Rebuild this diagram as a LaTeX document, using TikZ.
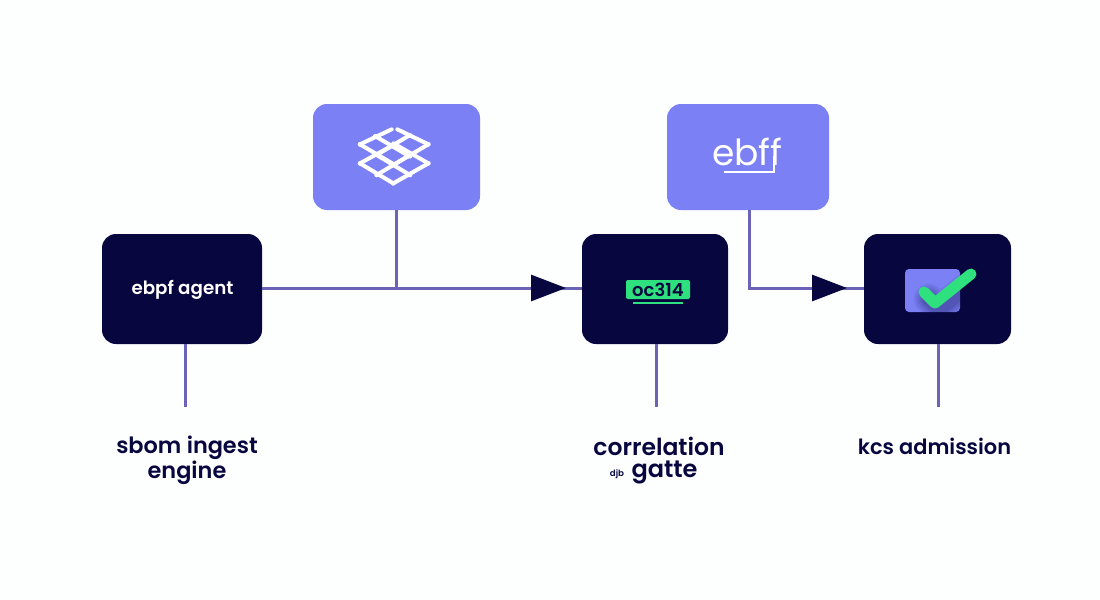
\documentclass[tikz,border=0pt]{standalone}
\usepackage{fontspec}
\setmainfont{Poppins}[BoldFont={Poppins SemiBold}]
\usetikzlibrary{arrows.meta,calc}
\definecolor{bgc}{HTML}{FDFEFE}
\definecolor{darkbox}{HTML}{07063F}
\definecolor{purplebox}{HTML}{7B80F5}
\definecolor{linec}{HTML}{6B63B8}
\definecolor{greenc}{HTML}{2FE07F}
\tikzset{
  box/.style={rounded corners=10.5pt,inner sep=0pt,minimum height=#1},
  darkb/.style={box=82.5pt,fill=darkbox,text=white},
  lightb/.style={box=79.5pt,fill=purplebox,text=white},
  conn/.style={draw=linec,line width=2.25pt},
  tipped/.style={conn,-{Triangle[length=26.25pt,width=19.5pt,color=darkbox]}},
  lab/.style={text=darkbox,font=\fontsize{16.8pt}{18.75pt}\selectfont\bfseries,align=center,inner sep=0pt},
  mesh/.style={draw=white,line width=3pt,line cap=round},
  meshdot/.style={fill=white}
}
\begin{document}
\begin{tikzpicture}[x=0.75pt,y=-0.75pt]
\useasboundingbox (0,0) rectangle (1100,600);
\fill[bgc] (0,0) rectangle (1100,600);
% boxes
\node[darkb,minimum width=120pt] (agent) at (182,289) {};
\node[text=white,inner sep=0pt,font=\fontsize{13.7pt}{16pt}\selectfont\bfseries] (agentt) at (182.5,290) {ebpf agent};
\node[lightb,minimum width=125.25pt] (mesh) at (396.5,157) {};
\node[lightb,minimum width=121.5pt] (ebff) at (748,157) {};
\node[darkb,minimum width=109.5pt] (corr) at (655,289) {};
\node[darkb,minimum width=110.25pt] (kcs) at (937.5,289) {};
% connector helpers
\coordinate (tipa) at (566,288);
\coordinate (tipb) at (847,288);
\coordinate (jmesh) at (mesh.south |- tipa);
\coordinate (jebff) at (749,288);
\coordinate (enda) at (185,407);
\coordinate (endc) at (656,407);
\coordinate (endk) at (938,407);
% connectors
\draw[conn] (agent.east |- tipa) -- (corr.west |- tipa);
\draw[tipped] (jmesh) -- (tipa);
\draw[conn] (mesh.south) -- (jmesh);
\draw[conn,line join=miter] (ebff.south -| jebff) -- (jebff) -- (kcs.west |- tipb);
\draw[tipped] (jebff) -- (tipb);
\draw[conn] (agent.south -| enda) -- (enda);
\draw[conn] (corr.south -| endc) -- (endc);
\draw[conn] (kcs.south -| endk) -- (endk);
% mesh icon
\begin{scope}[shift={(310,100)},x=0.25pt,y=-0.25pt]
  \foreach \a/\b/\c/\d in {150/133/245/88,262/88/355/133,195/108/300/170,150/133/250/192,300/105/200/165,355/133/250/195,150/190/250/135,355/190/250/130,150/190/250/250,355/190/250/250,200/165/300/225,300/165/200/225}{
    \draw[mesh] (\a,\b) -- (\c,\d);
  }
  \foreach \a/\b in {150/133,355/133,150/190,355/190,250/250,200/225,300/225}{
    \fill[meshdot] (\a,\b) circle (7);
  }
\end{scope}
% ebff text
\node[text=white,inner sep=0pt,anchor=base,font=\fontsize{27pt}{28pt}\selectfont] (ebfft) at (747.5,165) {ebff};
\coordinate (ula) at (724,172);
\coordinate (ulb) at (774,172);
\coordinate (ulc) at (774,156);
\draw[white,line width=1.1pt] (ula) -- (ulb) -- (ulc);
% oc314 badge
\node[fill=greenc,rounded corners=1.5pt,minimum width=48pt,minimum height=14.25pt,inner sep=0pt,text=darkbox,font=\fontsize{13.5pt}{14pt}\selectfont\bfseries] (badge) at (658,289.5) {oc314};
\coordinate (bula) at (633,303);
\coordinate (bulb) at (683,303);
\draw[greenc,line width=1.6pt] (bula) -- (bulb);
% check icon
\node[fill=purplebox,rounded corners=3pt,minimum width=41.25pt,minimum height=32.25pt,inner sep=0pt] (chk) at (932.5,290.5) {};
\begin{scope}
  \clip[rounded corners=3pt] (chk.south west) rectangle (chk.north east);
  \foreach \w/\o in {30/0.07,26/0.07,22/0.08,18/0.08,14/0.1}{
    \draw[darkbox,opacity=\o,line width=\w*0.75pt,line cap=round,line join=round] (929,299) -- (939,309) -- (974,282);
  }
\end{scope}
\coordinate (cka) at (924,292);
\coordinate (ckb) at (935,303);
\coordinate (ckc) at (971,274);
\draw[greenc,line width=8.25pt,line cap=round,line join=round] (cka) -- (ckb) -- (ckc);
% labels
\node[lab] (l1) at (187,460) {sbom ingest\\engine};
\node[lab,font=\fontsize{17.6pt}{19pt}\selectfont\bfseries] (l2a) at (659,446) {correlation};
\node[lab,font=\fontsize{18pt}{19pt}\selectfont\bfseries] (l2b) at (664.5,472) {gatte};
\node[text=darkbox,inner sep=0pt,font=\fontsize{6.5pt}{7pt}\selectfont\bfseries] (l2c) at (617,474) {djb};
\node[lab,font=\fontsize{15.7pt}{18pt}\selectfont\bfseries] (l3) at (934.5,446) {kcs admission};
\end{tikzpicture}
\end{document}
